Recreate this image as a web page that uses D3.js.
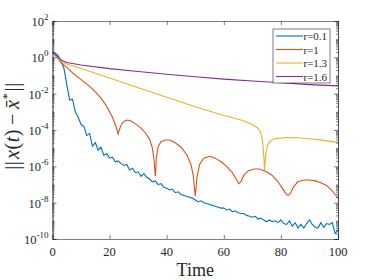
<!DOCTYPE html>
<meta charset="utf-8">
<head>
    <script src="https://d3js.org/d3.v7.min.js"></script>
</head>
<style>
    body { margin: 0; background: white; }
    .axis path, .axis line { stroke: #262626; stroke-width: 0.6px; }
</style>
<div id="my_dataviz"></div>
<script>

    // series values (log10 of the error)
    var tBlue = d3.range(0, 101);
    var blueLog = [0.3, 0.22, 0.1, -0.2, -0.6, -1.5, -2.35, -2.3, -3.0, -3.3,
        -3.7, -3.8, -4.3, -4.2, -4.9, -4.7, -5.1, -4.95, -5.4, -5.3,
        -5.55, -5.5, -5.75, -5.7, -5.85, -5.95, -5.9, -6.2, -6.1, -6.35,
        -6.3, -6.55, -6.4, -6.6, -6.7, -6.85, -6.8, -7.0, -6.95, -7.15,
        -7.2, -7.3, -7.25, -7.45, -7.4, -7.55, -7.6, -7.65, -7.7, -7.75,
        -7.85, -7.95, -7.9, -8.0, -8.05, -8.1, -8.15, -8.2, -8.25, -8.3,
        -8.3, -8.4, -8.35, -8.5, -8.45, -8.55, -8.6, -8.6, -8.7, -8.75,
        -8.8, -8.75, -8.9, -8.85, -8.95, -9.05, -8.95, -9.05, -9.0, -9.1,
        -8.95, -9.15, -9.2, -9.0, -9.3, -9.1, -9.4, -9.2, -9.4, -9.15,
        -8.95, -9.2, -9.35, -9.4, -9.1, -9.35, -9.15, -9.2, -9.1, -9.7, -9.5];

    var tOrange = [0, 1, 2, 3, 5, 7, 9, 11, 13, 15, 17, 19, 20, 21, 22, 22.6, 23, 23.5, 24.3, 25.3,
        26.3, 27.5, 29, 31, 32.5, 34, 35, 35.6, 36, 36.4, 37, 38, 39.5, 41, 43, 45, 47, 48.5, 49.3, 50,
        50.6, 51.5, 53, 55, 57, 59, 61, 63, 64.5, 65.3, 66, 67, 68.5, 70.5, 72.5, 75, 77, 79, 80.5, 81.7,
        82.5, 83.3, 84.5, 86, 88, 90, 92, 94, 96, 98, 99, 100];
    var orangeLog = [0.3, 0.1, -0.1, -0.3, -0.55, -0.85, -1.1, -1.35, -1.6, -1.9, -2.25, -2.7, -3.0, -3.3, -3.7, -4.0, -4.22, -3.95, -3.65, -3.5,
        -3.45, -3.5, -3.65, -3.9, -4.15, -4.5, -5.0, -5.7, -6.55, -5.5, -4.9, -4.65, -4.55, -4.55, -4.7, -4.95, -5.35, -5.9, -6.5, -7.65,
        -6.6, -5.9, -5.55, -5.45, -5.55, -5.75, -6.0, -6.35, -6.75, -6.95, -6.85, -6.5, -6.25, -6.15, -6.15, -6.3, -6.5, -6.85, -7.2, -7.5,
        -7.6, -7.5, -7.1, -6.85, -6.75, -6.75, -6.8, -6.9, -7.05, -7.35, -7.55, -7.75];

    var tYellow = [0, 1, 2, 3, 5, 10, 20, 30, 40, 50, 60, 66, 70, 72, 72.8, 73.5, 74, 74.3, 74.7, 75.3,
        76.2, 77.5, 79, 82, 86, 90, 95, 100];
    var yellowLog = [0.3, 0.1, -0.1, -0.25, -0.37, -0.62, -1.14, -1.67, -2.2, -2.72, -3.2, -3.45, -3.7, -3.9, -4.1, -4.5, -5.4, -6.2, -5.3, -4.85,
        -4.62, -4.5, -4.45, -4.42, -4.43, -4.48, -4.57, -4.68];

    var tPurple = [0, 1, 2, 3, 5, 10, 20, 30, 40, 50, 60, 70, 80, 90, 100];
    var purpleLog = [0.3, 0.15, 0.0, -0.15, -0.28, -0.42, -0.62, -0.78, -0.93, -1.07, -1.2, -1.3, -1.4, -1.5, -1.57];

    var seriesNames = ["r=0.1", "r=1", "r=1.3", "r=1.6"];
    var seriesColors = ["#0072BD", "#D95319", "#EDB120", "#7E2F8E"];
    var xTicks = [0, 20, 40, 60, 80, 100];
    var yTickExp = [2, 0, -2, -4, -6, -8, -10];

    var W = 374, H = 280;
    var margin = {top: 21, right: 36, bottom: 41, left: 52.5};
    var serif = "'Liberation Serif', 'Times New Roman', Times, serif";

    var svg = d3.select("#my_dataviz")
        .append("svg")
        .attr("width", W)
        .attr("height", H)
        .style("font-family", serif);

    var x = d3.scaleLinear().domain([0, 100]).range([margin.left, W - margin.right]);
    var y = d3.scaleLog().domain([1e-10, 1e2]).range([H - margin.bottom, margin.top]);

    // minor ticks on log axis
    var minor = [];
    for (var e = -10; e < 2; e++) {
        for (var m = 1; m < 10; m++) {
            if (m === 1 && e % 2 === 0) continue;
            minor.push(m * Math.pow(10, e));
        }
    }
    var major = yTickExp.map(function (k) { return Math.pow(10, k); });

    // data lines
    var line = d3.line()
        .x(function (d) { return x(d[0]); })
        .y(function (d) { return y(Math.pow(10, d[1])); });

    var allSeries = [
        d3.zip(tBlue, blueLog),
        d3.zip(tOrange, orangeLog),
        d3.zip(tYellow, yellowLog),
        d3.zip(tPurple, purpleLog)
    ];

    svg.append("g")
        .selectAll("path")
        .data(allSeries)
        .enter()
        .append("path")
        .attr("d", line)
        .attr("fill", "none")
        .attr("stroke-width", 1.1)
        .attr("stroke", function (d, i) { return seriesColors[i]; });

    // axes (box, ticks pointing in)
    svg.append("g").attr("class", "axis")
        .attr("transform", "translate(0," + (H - margin.bottom) + ")")
        .call(d3.axisBottom(x).tickValues(xTicks).tickSize(-4).tickFormat(""));
    svg.append("g").attr("class", "axis")
        .attr("transform", "translate(0," + margin.top + ")")
        .call(d3.axisTop(x).tickValues(xTicks).tickSize(-4).tickFormat(""));

    function yAxes(vals, size) {
        svg.append("g").attr("class", "axis")
            .attr("transform", "translate(" + margin.left + ",0)")
            .call(d3.axisLeft(y).tickValues(vals).tickSize(-size).tickFormat(""));
        svg.append("g").attr("class", "axis")
            .attr("transform", "translate(" + (W - margin.right) + ",0)")
            .call(d3.axisRight(y).tickValues(vals).tickSize(-size).tickFormat(""));
    }
    yAxes(major, 4);
    yAxes(minor, 2);

    // x tick labels
    svg.append("g").selectAll("text")
        .data(xTicks).enter()
        .append("text")
        .attr("x", function (d) { return x(d); })
        .attr("y", H - margin.bottom + 17)
        .attr("text-anchor", "middle")
        .attr("fill", "#262626")
        .style("font-size", "12.5px")
        .text(function (d) { return d; });

    // y tick labels: 10^k
    var yl = svg.append("g").selectAll("text")
        .data(yTickExp).enter()
        .append("text")
        .attr("x", margin.left - 4)
        .attr("y", function (d) { return y(Math.pow(10, d)) + 5; })
        .attr("text-anchor", "end")
        .attr("fill", "#262626")
        .style("font-size", "12.5px");
    yl.append("tspan").text("10");
    yl.append("tspan")
        .attr("dy", -6)
        .style("font-size", "9px")
        .text(function (d) { return d; });

    // axis labels
    svg.append("text")
        .attr("x", (x(0) + x(100)) / 2)
        .attr("y", H - 4)
        .attr("text-anchor", "middle")
        .attr("fill", "#262626")
        .style("font-size", "18px")
        .text("Time");

    var ylab = svg.append("text")
        .attr("transform", "translate(18.5," + ((y(1e2) + y(1e-10)) / 2 - 4) + ") rotate(-90)")
        .attr("text-anchor", "middle")
        .attr("fill", "#262626")
        .style("font-size", "20px")
        .style("letter-spacing", "0.6px");
    ylab.append("tspan").text("||");
    ylab.append("tspan").attr("dx", 1.5).style("font-style", "italic").text("x");
    ylab.append("tspan").text("(");
    ylab.append("tspan").style("font-style", "italic").text("t");
    ylab.append("tspan").text(")");
    ylab.append("tspan").attr("dx", 4).text("\u2212");
    ylab.append("tspan").attr("dx", 4).style("font-style", "italic").text("x\u0304");
    ylab.append("tspan").attr("dy", -8).style("font-size", "13px").text("*");
    ylab.append("tspan").attr("dy", 8).attr("dx", 1).text("||");

    // legend
    var lg = svg.append("g").attr("transform", "translate(273,29)");
    lg.append("rect")
        .attr("width", 57).attr("height", 54)
        .attr("fill", "white")
        .attr("stroke", "#262626")
        .attr("stroke-width", 0.6);
    var rows = lg.selectAll("g.row")
        .data(seriesNames).enter()
        .append("g")
        .attr("class", "row")
        .attr("transform", function (d, i) { return "translate(0," + (7 + i * 13.5) + ")"; });
    rows.append("line")
        .attr("x1", 3).attr("x2", 30)
        .attr("stroke-width", 1.1)
        .attr("stroke", function (d, i) { return seriesColors[i]; });
    rows.append("text")
        .attr("x", 30.5)
        .attr("y", 4)
        .attr("fill", "#262626")
        .style("font-size", "11px")
        .text(function (d) { return d; });

</script>
